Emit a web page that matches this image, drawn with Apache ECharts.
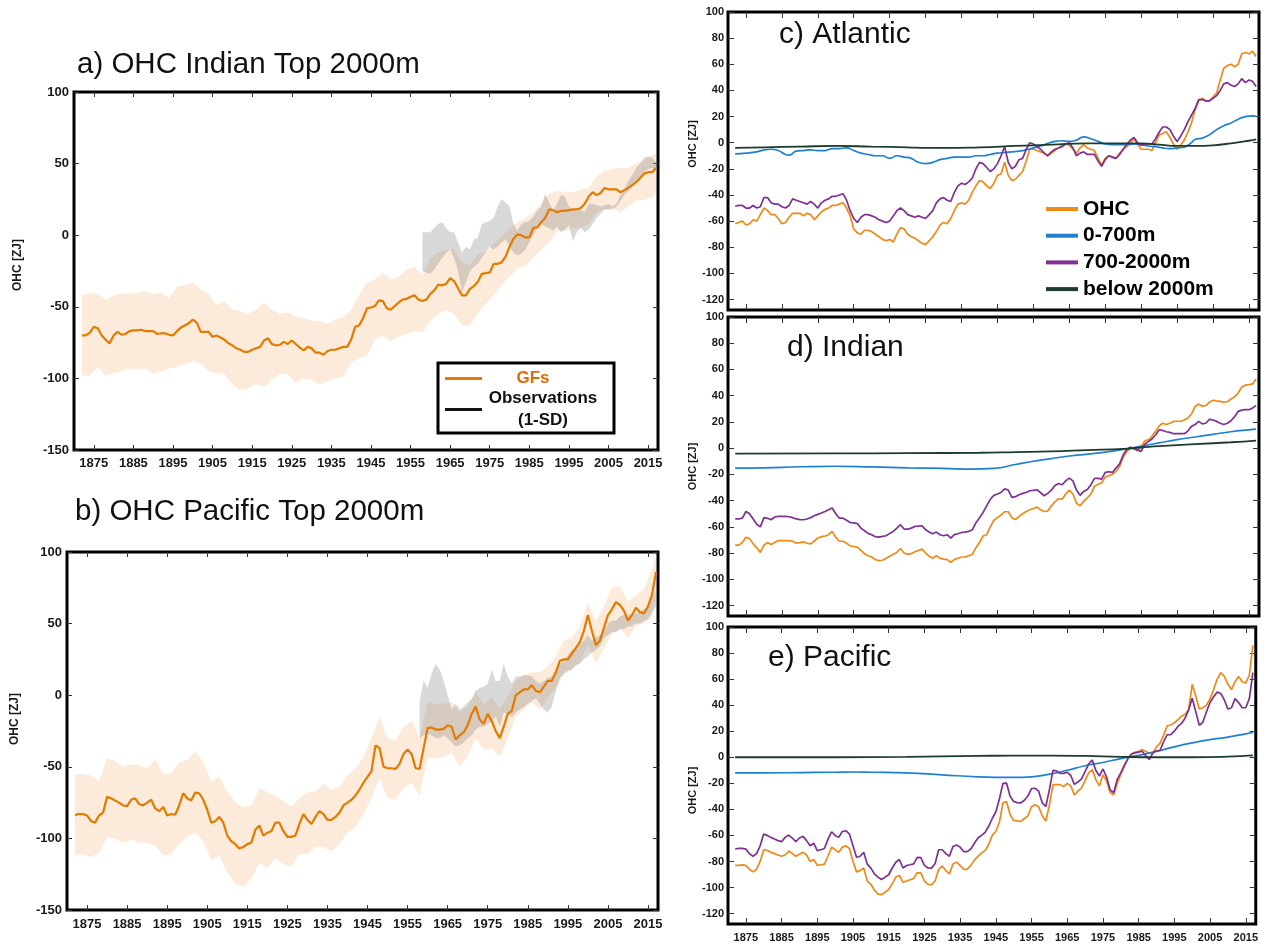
<!DOCTYPE html>
<html>
<head>
<meta charset="utf-8">
<script src="https://cdn.jsdelivr.net/npm/echarts@6/dist/echarts.min.js"></script>
<style>
html,body{margin:0;padding:0;background:#fff;}
#chart{width:1261px;height:943px;}
</style>
</head>
<body>
<div id="chart"></div>
<script>
// ---------------- DATA ----------------
const START_YEAR = 1872;           // first year of annual series (1872..2017)
const OBS_START = 1958;            // first year of observation bands (1958..2017)
const X_TICKS = [1875,1885,1895,1905,1915,1925,1935,1945,1955,1965,1975,1985,1995,2005,2015];
const Y_TICKS_LEFT = [-150,-100,-50,0,50,100];
const Y_TICKS_RIGHT = [-120,-100,-80,-60,-40,-20,0,20,40,60,80,100];
const BAND_YEARS = [1872,1874,1876,1878,1880,1882,1884,1886,1888,1890,
  1892,1894,1896,1898,1900,1902,1904,1906,1908,1910,
  1912,1914,1916,1918,1920,1922,1924,1926,1928,1930,
  1932,1934,1936,1938,1940,1942,1944,1946,1948,1950,
  1952,1954,1956,1958,1960,1962,1964,1966,1968,1970,
  1972,1974,1976,1978,1980,1982,1984,1986,1988,1990,
  1992,1994,1996,1998,2000,2002,2004,2006,2008,2010,
  2012,2014,2016,2017];

// a) Indian top 2000m : GFs mean (annual)
const A_MEAN = [
 -70,-70,-68,-64,-65,-70,-73,-75.5,-70,-67.5,
 -69.5,-69,-67,-66.5,-66.5,-66,-67,-67,-67,-69,
 -68.5,-68.5,-69.5,-70,-67,-64.5,-63,-61.5,-59,-61,
 -67.5,-67.5,-67.5,-71,-70,-71.5,-73,-75.5,-77,-79,
 -80,-81.5,-81.5,-80,-79,-78,-73.5,-72,-76,-77,
 -76.5,-74.5,-76,-73.5,-76,-78.5,-80.5,-78,-79,-82,
 -82,-83.5,-81,-80,-80,-79,-78,-78,-73,-64,
 -63,-58,-51,-50.5,-49.5,-45.5,-46,-51,-52,-49.5,
 -47,-45,-44.5,-43,-42,-45,-46,-45,-41,-38.5,
 -34.5,-35,-34,-30,-32,-37,-42,-42,-37.5,-35.5,
 -32.5,-27,-26.5,-26,-20,-20,-19,-15,-8,-2.5,
 0.5,0,-1.5,-1.5,5,5.5,9,12,18,17.5,
 16,17,17,17.5,18,18,19,22,27,30,
 28,29.5,33,32,32,32,30,31.5,33,35,
 37,40,43,44,44,47];
// a) GFs spread (on BAND_YEARS)
const A_BAND_HI = [
 -42,-40,-41,-45,-42,-40.5,-41,-40,-39,-41,
 -40,-44,-36,-35,-33,-38,-41,-49,-46,-52,
 -53,-55,-52,-47,-52,-55,-54,-57,-58,-60,
 -60,-62,-59,-57,-52,-42,-33,-31,-26,-31,
 -29,-24,-22,-28,-16,-12,-10,-10,-19,-21,
 -13,-12,-6,-1,5,9,12,16,22,29,
 31,30,30,32,33,41,45,46,47,47,
 50,52,56,57];
const A_BAND_LO = [
 -98,-98,-92,-98,-96,-95,-93,-94,-93,-97,
 -95,-93,-92,-90,-88,-90,-95,-96,-97,-104,
 -108,-107,-104,-106,-101,-97,-97,-103,-100,-101,
 -104,-102,-100,-99,-89,-86,-84,-73,-70,-74,
 -71,-69,-67,-68,-60,-55,-52,-55,-63,-63,
 -54,-48,-42,-35,-29,-23,-22,-15,-10,-5,
 3,3,5,5,8,16,18,19,16,20,
 24,25,26,30];
// a) Observations 1-SD (annual from 1958)
const A_OBS_HI = [
 2,2,2,5,8,9,5,2,2,-5,
 -12,-8,-10,-3,-2,8,9,10,12,20,
 25,23,20,8,3,8,9,10,13,17,
 20,29,23,17,22,28,27,20,18,17,
 18,16,22,22,21,20,21,22,20,22,
 28,32,38,42,47,50,54,55,54,51];
const A_OBS_LO = [
 -25,-26,-27,-24,-20,-16,-12,-10,-16,-25,
 -40,-33,-25,-22,-20,-16,-12,-8,-10,-8,
 -5,-3,-8,-12,-14,-13,-10,-5,0,5,
 8,6,5,3,6,2,4,7,-4,2,
 5,2,4,8,12,15,18,18,18,20,
 24,28,31,34,38,41,44,46,47,46];

// b) Pacific top 2000m : GFs mean (annual)
const B_MEAN = [
 -83.7,-83,-83,-84,-88,-89,-84,-82,-71,-72,
 -73.5,-75,-77,-77.5,-73,-72,-76,-77,-75,-73,
 -79,-81,-78,-84,-83,-83.5,-77,-68.5,-72,-73.5,
 -68,-68.5,-73,-80,-89,-88,-85,-89,-98,-102,
 -104,-107,-106,-104,-103,-94,-91,-98,-96,-95,
 -89,-89,-95,-99,-99,-98,-90,-83,-87,-90,
 -85,-81,-83,-87,-87,-85,-82,-77,-75,-73,
 -70,-66,-61,-57,-53,-35,-37,-50,-51,-51,
 -51.5,-48,-41,-38,-41,-51,-51.5,-37,-23,-22.5,
 -24,-24,-23.5,-21,-22,-31,-28,-26,-21,-13,
 -8,-17,-20,-13,-18,-25,-30,-22,-13,-11,
 0,2,4,4,7,3,2,6,10,10,
 16,24,25,25,29,33,37,45,56,45,
 35,38,47,56,60,65,63,59,52,56,
 61,58,57,62,70,86];
const B_BAND_HI = [
 -55,-55,-56,-60,-44,-46,-50,-48,-49,-51,
 -45,-55,-55,-47,-45,-39,-47,-60,-57,-67,
 -75,-78,-77,-65,-68,-70,-74,-78,-72,-68,
 -67,-62,-66,-64,-56,-51,-43,-30,-15,-30,
 -32,-22,-18,-30,-5,-6,-6,-5,-12,-8,
 3,-7,-1,-10,0,10,14,16,16,20,
 27,38,40,48,65,52,62,75,76,65,
 70,74,88,98];
const B_BAND_LO = [
 -112,-111,-113,-110,-99,-100,-103,-101,-103,-103,
 -105,-112,-111,-104,-99,-96,-102,-115,-112,-124,
 -131,-134,-128,-117,-121,-114,-118,-120,-111,-111,
 -106,-106,-109,-104,-96,-92,-83,-72,-58,-72,
 -73,-65,-61,-70,-44,-44,-43,-40,-50,-43,
 -30,-38,-37,-43,-30,-15,-10,-5,-10,-2,
 5,15,18,23,35,22,33,43,47,40,
 48,50,55,72];
const B_OBS_HI = [
 -5,10,5,15,22,18,10,0,-10,-6,
 -10,-8,-5,-3,3,5,6,8,18,10,
 10,22,13,8,13,13,14,14,13,10,
 8,10,12,13,18,22,24,28,32,33,
 35,38,42,38,40,42,45,50,52,52,
 55,56,56,57,57,59,60,63,68,72];
const B_OBS_LO = [
 -30,-28,-27,-28,-30,-30,-28,-30,-33,-36,
 -35,-33,-30,-28,-24,-22,-22,-20,-18,-15,
 -22,-12,-13,-15,-12,-10,-8,-6,-4,-2,
 -6,-10,-12,-8,3,12,15,17,18,21,
 22,25,27,30,32,34,40,42,44,44,
 46,46,48,48,50,50,52,53,58,62];

// c) Atlantic (annual OHC and 700-2000m; sparse smooth layers)
const C_OHC = [
 -62,-61,-60,-63,-62,-59,-60,-55,-50,-52,
 -55,-55,-58,-62,-61,-57,-54,-54,-54,-56,
 -54,-55,-59,-56,-53,-51,-50,-48,-48,-47,
 -46,-50,-56,-66,-69,-70,-67,-67,-68,-70,
 -72,-74,-75,-74,-76,-70,-65,-66,-70,-72,
 -73,-75,-77,-78,-75,-72,-68,-63,-61,-62,
 -58,-52,-47,-46,-47,-44,-38,-33,-29,-30,
 -33,-35,-31,-25,-24,-15,-25,-29,-28,-25,
 -22,-14,-5,-5,-6,-7,-8,-10,-8,-6,
 -4,-2,-1,-2,-5,-8,-4,-1.5,-4,-5,
 -6,-12,-17,-12,-10,-11,-12,-8,-5,-3,
 0,3,-1,-5,-5,-5,-6,0,6,7,
 8.5,4,-1,-5,-2,2,8,15,25,32,
 34,32,32,35,38,48,57,59,60,58,
 60,68,69,68,70,66];
const C_MID = [
 -48.6,-48,-48,-50,-50,-48,-50,-49,-42,-42,
 -46,-47,-47,-49,-50,-48,-43,-44,-45,-46,
 -47,-45,-47,-50,-46,-44,-43,-41,-41,-40,
 -39,-44,-52,-58,-61,-57,-55,-55,-56,-57,
 -59,-60,-61,-60,-56,-52,-50,-52,-55,-56,
 -57,-56,-57,-58,-55,-52,-46,-43,-42,-44,
 -45,-38,-33,-31,-32,-30,-27,-20,-15,-16,
 -19,-22,-20,-16,-10,-3,-15,-20,-18,-13,
 -12,-5,0,-1,-3,-5,-8,-10,-7,-5,
 -4,-3,-1,0,-4,-10,-8,-7,-9,-9,
 -9,-14,-18,-13,-10,-11,-12,-9,-5,-1,
 2,4,0,-2,-1,-1,-1,3,8,12,
 12,10,5,1,5,10,16,21,26,33,
 33,32,32,34,36,40,45,46,44,43,
 45,49,46,48,47,43];
const C_UP_YEARS = [1872,1875,1878,1880,1882,1884,1886,1887,1889,1891,1893,1895,1897,1899,1901,1903,1905,1907,1909,1911,1913,1915,1917,1919,1921,1923,1925,1927,1929,1931,1933,1935,1937,1939,1941,1943,1945,1947,1949,1951,1953,1955,1957,1959,1961,1963,1965,1967,1969,1971,1973,1975,1977,1979,1981,1983,1985,1987,1989,1991,1993,1995,1997,1998,1999,2000,2002,2004,2006,2008,2010,2012,2014,2016,2017];
const C_UP = [-8.6,-8,-7,-5.5,-5,-6,-9,-9.5,-6.5,-6,-5.5,-6,-6,-4.5,-4.5,-4,-6,-8,-9,-10,-10,-12,-10,-11,-12,-15,-16,-15,-13,-12,-11,-11,-11,-10,-10,-9,-8,-7.5,-7,-6.5,-5.5,-4,-2.5,-0.5,1,1.5,1,2,4.5,3,1,-1,-1.5,-1.5,-1.5,-1,-1.5,-2.5,-3,-4,-4.5,-4,-3.5,-2,0,2.5,3.5,6,10,13,15,18,20,20.5,20];
const C_DEEP_YEARS = [1872,1880,1890,1900,1910,1920,1925,1930,1940,1950,1960,1970,1980,1985,1990,1995,2000,2005,2010,2015,2017];
const C_DEEP = [-4,-3.5,-3,-2.5,-3,-3.5,-4,-4,-3.5,-2.5,-1.5,-0.5,-0.5,-0.5,-1.5,-2.5,-2.5,-2,-0.5,1.5,2.5];

// d) Indian
const D_OHC = [
 -74,-74,-72,-68,-69,-73,-76,-79.5,-74,-72,
 -73.5,-72,-70.5,-70.5,-70.5,-70.5,-71,-72.5,-72,-71.5,
 -72.5,-73,-71,-68.5,-67.5,-67,-66,-63.5,-68,-71,
 -71,-72.5,-74.5,-75,-75.5,-78,-80.5,-82,-83,-85,
 -85.7,-85.5,-84,-82.5,-81,-79.5,-76.5,-80,-81,-80.5,
 -79,-78,-77,-80,-82.5,-84,-82,-84,-84.6,-85,
 -87,-85,-84,-83,-83,-82,-81,-76,-72,-67,
 -66,-60,-55,-53,-51,-48.5,-48.5,-53,-54.5,-52,
 -50,-48.3,-47,-46,-45,-47,-48.3,-48,-44,-41,
 -38.5,-39,-35,-32,-35,-42,-44,-40.5,-38,-35,
 -29,-27.5,-26.5,-22,-21,-20,-17.5,-14,-7,-2.5,
 0,-0.3,-2,1,5.5,6.4,9,12.8,17,19,
 18,19,20.4,20.5,20.5,21.5,23,26,31.8,33.6,
 32,32.5,35,36.5,36,35.7,35,35.5,37.5,39,
 42,46.6,48,48.4,49,52.7];
const D_MID = [
 -54,-54,-53.4,-48.3,-50,-54,-58,-60,-53,-53.5,
 -54.6,-52.5,-52,-52,-52,-52.3,-53,-54,-54.5,-54.6,
 -54,-53,-51.6,-50.5,-49.5,-48.3,-47,-45.7,-50,-53.4,
 -53.4,-55,-56.7,-57,-57.5,-61,-63,-65,-66,-67.5,
 -67.9,-67.3,-66.8,-65,-63.5,-61,-58.4,-61.7,-61.7,-61,
 -59.7,-59.5,-59.2,-62.3,-64,-65.3,-64,-66,-66.8,-66,
 -68.6,-66,-65.3,-64.3,-64,-63.5,-62.3,-57,-53,-49,
 -44,-39,-36,-35,-33.8,-31,-32,-37.5,-37,-35.5,
 -34.5,-33.8,-32.5,-32.2,-31.7,-34,-36.3,-34.5,-32,-28.5,
 -27,-27.9,-25,-22.8,-25,-32,-36,-33,-31.5,-28,
 -23,-23,-23.6,-18.5,-18,-18.5,-15,-12,-5,-1,
 0.8,-0.5,-1.5,-2.5,3,5,7,10,14,13.5,
 12.5,12,11,11,11,11,13,16.6,18,20.4,
 18.5,19,22,21.5,20.4,19,18,19,20.9,24,
 28,29,29.3,29.3,30.5,32.6];
const D_UP_YEARS = [1872,1880,1890,1900,1910,1920,1930,1938,1944,1950,1955,1960,1965,1970,1975,1980,1985,1990,1995,2000,2005,2010,2015,2017];
const D_UP = [-15.2,-15,-14.2,-13.8,-14.3,-15,-15.5,-16,-15.5,-12.5,-10,-8,-6,-4.5,-3,-1,1.5,4,6.5,8.5,10.5,12.5,14,14.5];
const D_DEEP_YEARS = [1872,1900,1920,1940,1950,1960,1970,1980,1985,1990,2000,2010,2017];
const D_DEEP = [-4.2,-4,-3.8,-3.5,-3,-2.5,-1.5,-0.5,0.5,1.5,3,4.5,5.8];

// e) Pacific
const E_OHC = [
 -83,-83,-82.6,-83,-86,-88,-86,-80,-71,-71.5,
 -73,-74,-75,-76,-75,-72,-74,-76,-74.5,-73,
 -75,-80,-78.5,-83,-82.5,-82,-76,-69,-71,-73,
 -69,-68,-70,-80,-88,-87,-85,-95,-97.5,-102,
 -105,-105.5,-103.5,-101.5,-97,-92,-90.7,-96,-95,-94,
 -93,-88.7,-88.7,-95,-97.5,-97.9,-95,-86,-83.5,-87,
 -89.5,-82,-80.5,-83,-86,-86,-83,-79,-76,-73.5,
 -71.7,-67,-60,-57,-50,-35,-34,-44,-48.5,-48.8,
 -49.3,-47,-45,-38,-36.5,-38,-45,-49,-37,-21,
 -21,-21,-22.6,-20,-22,-29,-26,-23.5,-18,-12,
 -9.5,-17,-22,-13.5,-18,-27,-29,-20,-13,-7,
 -1,2.5,3.9,4.5,6,4.5,3,3.4,8,10.8,
 17,24.2,24.8,26.5,28.8,31.5,33,36.4,56,47,
 37,38,40,45,52,60,65,62,56,52,
 58,62,58,57,63,86];
const E_MID = [
 -70.4,-70,-70,-70.5,-74,-76,-74,-68,-59,-60,
 -61.5,-62.8,-64,-64.8,-61.5,-59.7,-62,-64.8,-62,-60.7,
 -64,-68,-66,-71.7,-71,-70,-63,-57.2,-60,-61.5,
 -57,-56.4,-59,-68,-76.8,-76,-73,-82,-85.1,-89.5,
 -92,-93.8,-92,-90.2,-85,-80.6,-78.5,-85,-83.1,-82.5,
 -81.8,-76.8,-77,-83,-85,-85.1,-81.5,-71,-71,-74,
 -76,-68.5,-67.3,-69,-72.4,-72.4,-70.4,-66,-62,-60,
 -57.7,-53,-47,-42,-32,-20,-19.8,-30,-34,-34.8,
 -35,-33,-29.7,-24,-23.8,-26,-35,-37.8,-25,-10,
 -10.5,-12.4,-12.4,-11.5,-14,-20.8,-19,-16.5,-11,-5,
 -2.2,-10,-14.4,-9,-15,-25,-27.2,-17,-12,-6,
 -1,2.5,3.4,3.9,4.6,1,-1.7,3.4,5,5.4,
 12,17.3,17.3,20,23.7,26,30,36.4,45.3,35,
 24.5,27,35,42,46.5,50,49,44,37,38,
 45,42,38,38,45,65];
const E_UP_YEARS = [1872,1880,1890,1900,1905,1910,1920,1930,1940,1950,1955,1960,1965,1970,1975,1980,1985,1990,1995,2000,2005,2010,2015,2017];
const E_UP = [-12,-12,-11.8,-11.5,-11.3,-11.5,-12,-13.5,-15,-15.5,-15,-13,-10,-6.5,-4,-1,1.5,4.5,8,11,13.5,15.5,18,19];
const E_DEEP_YEARS = [1872,1900,1920,1940,1950,1960,1970,1980,1990,2000,2010,2017];
const E_DEEP = [0,0,0.3,1,1.3,1.3,1,0.3,0,0,0.5,1.5];

// ---------------- HELPERS ----------------
const FONT = "'Liberation Sans', Arial, Helvetica, sans-serif";
const COL = { gf:'#e27b00', ohc:'#ee8a18', up:'#1f80d0', mid:'#7e3192', deep:'#1d3c2b',
              band:'rgba(244,176,106,0.25)', obs:'rgba(125,125,125,0.30)' };

function annual(vals, start){ return vals.map((v,i)=>[start+i, v]); }
function pairs(years, vals){ return years.map((y,i)=>[y, vals[i]]); }

const grids = [
  {left:74,  top:92,  width:584, height:358},   // a
  {left:67,  top:552, width:591, height:358},   // b
  {left:728, top:12,  width:531, height:298},   // c
  {left:728, top:317, width:531, height:299},   // d
  {left:728, top:627, width:531, height:299}    // e
].map(g => Object.assign(g, {show:true, borderColor:'#000', borderWidth:3, backgroundColor:'rgba(0,0,0,0)'}));

const xAxes = [], yAxes = [];
function addAxes(gi, o){
  const tick = {show:true, inside:true, length:o.tickLen, lineStyle:{color:'#333', width:1}};
  xAxes.push({type:'value', gridIndex:gi, min:1870, max:o.xmax, position:'bottom',
    splitLine:{show:false}, axisLine:{show:false, onZero:false},
    axisTick:Object.assign({customValues:X_TICKS}, tick),
    axisLabel:{show:o.xLabels, customValues:X_TICKS, formatter:v => String(v),
      fontFamily:FONT, fontWeight:'bold', fontSize:o.fs, color:'#1a1a1a', margin:o.xMargin}});
  xAxes.push({type:'value', gridIndex:gi, min:1870, max:o.xmax, position:'top',
    splitLine:{show:false}, axisLine:{show:false, onZero:false},
    axisTick:Object.assign({customValues:X_TICKS}, tick), axisLabel:{show:false}});
  const yBase = {type:'value', gridIndex:gi, min:o.ymin, max:100,
    splitLine:{show:false}, axisLine:{show:false, onZero:false}};
  const yt = o.left ? Y_TICKS_LEFT : Y_TICKS_RIGHT;
  yAxes.push(Object.assign({}, yBase, {position:'left',
    axisTick:Object.assign({customValues:yt}, tick),
    axisLabel:{customValues:yt, formatter:v => String(v), fontFamily:FONT, fontWeight:'bold', fontSize:o.fs, color:'#1a1a1a', margin:o.yMargin},
    name:'OHC [ZJ]', nameLocation:'middle', nameGap:o.nameGap,
    nameTextStyle:{fontFamily:FONT, fontWeight:'bold', fontSize:o.nameFs, color:'#1a1a1a', padding:o.namePad}}));
  yAxes.push(Object.assign({}, yBase, {position:'right',
    axisTick:Object.assign({customValues:yt}, tick), axisLabel:{show:false}}));
}
addAxes(0, {xmax:2017.5, ymin:-150, left:true, xLabels:true, fs:13, xMargin:7, yMargin:5, tickLen:5, nameGap:50, nameFs:12, namePad:[0,0,0,12]});
addAxes(1, {xmax:2017.5, ymin:-150, left:true, xLabels:true, fs:13, xMargin:8, yMargin:5, tickLen:5, nameGap:46, nameFs:12, namePad:[0,0,0,24]});
addAxes(2, {xmax:2017.8, ymin:-128, left:false, xLabels:false, fs:11, xMargin:8, yMargin:4, tickLen:6, nameGap:30, nameFs:11, namePad:[0,0,0,34]});
addAxes(3, {xmax:2017.8, ymin:-128, left:false, xLabels:false, fs:11, xMargin:8, yMargin:4, tickLen:6, nameGap:30, nameFs:11, namePad:[0,0,0,0]});
addAxes(4, {xmax:2017.8, ymin:-128, left:false, xLabels:true, fs:11, xMargin:8, yMargin:4, tickLen:6, nameGap:30, nameFs:11, namePad:[0,30,0,0]});

const series = [];
function idx(gi){ return {xAxisIndex:gi*2, yAxisIndex:gi*2}; }
// shaded band between lo and hi, drawn as one polygon through the axes' coordinate system
function band(gi, years, lo, hi, color, name){
  series.push(Object.assign({name:name, type:'custom', silent:true, color:color,
    itemStyle:{color:color},
    data:[[years[0], lo[0]]],
    renderItem:(params, api) => {
      const pts = [];
      for (let i = 0; i < years.length; i++) pts.push(api.coord([years[i], hi[i]]));
      for (let i = years.length - 1; i >= 0; i--) pts.push(api.coord([years[i], lo[i]]));
      const cs = params.coordSys;
      return {type:'polygon', shape:{points:pts}, style:{fill:color},
              clipPath:{type:'rect', shape:{x:cs.x, y:cs.y, width:cs.width, height:cs.height}}};
    }}, idx(gi)));
}
function line(gi, name, data, color, width, smooth){
  series.push(Object.assign({name:name, type:'line', data:data, symbol:'none', color:color,
    smooth:!!smooth, lineStyle:{color:color, width:width}}, idx(gi)));
}
const OBS_YEARS = A_OBS_HI.map((v,i)=>OBS_START+i);

// a)
band(0, BAND_YEARS, A_BAND_LO, A_BAND_HI, COL.band, 'a GFs spread');
band(0, OBS_YEARS, A_OBS_LO, A_OBS_HI, COL.obs, 'Observations (1-SD)');
line(0, 'GFs', annual(A_MEAN, START_YEAR), COL.gf, 2.2);
// b)
band(1, BAND_YEARS, B_BAND_LO, B_BAND_HI, COL.band, 'b GFs spread');
band(1, OBS_YEARS, B_OBS_LO, B_OBS_HI, COL.obs, 'b Observations');
line(1, 'GFs', annual(B_MEAN, START_YEAR), COL.gf, 2.2);
// c, d, e)
[[2, C_OHC, C_MID, C_UP_YEARS, C_UP, C_DEEP_YEARS, C_DEEP],
 [3, D_OHC, D_MID, D_UP_YEARS, D_UP, D_DEEP_YEARS, D_DEEP],
 [4, E_OHC, E_MID, E_UP_YEARS, E_UP, E_DEEP_YEARS, E_DEEP]].forEach(p => {
  line(p[0], 'OHC', annual(p[1], START_YEAR), COL.ohc, 1.7);
  line(p[0], '0-700m', pairs(p[3], p[4]), COL.up, 1.7, true);
  line(p[0], '700-2000m', annual(p[2], START_YEAR), COL.mid, 1.7);
  line(p[0], 'below 2000m', pairs(p[5], p[6]), COL.deep, 1.8, true);
});

const titleStyle = fs => ({fontFamily:FONT, fontWeight:'normal', fontSize:fs, color:'#111'});
const option = {
  animation:false,
  backgroundColor:'#fff',
  title:[
    {text:'a) OHC Indian Top 2000m', left:77, top:50, padding:0, textStyle:titleStyle(29.5)},
    {text:'b) OHC Pacific Top 2000m', left:75, top:497, padding:0, textStyle:titleStyle(29.5)},
    {text:'c) Atlantic', left:779, top:20, padding:0, textStyle:titleStyle(30)},
    {text:'d) Indian', left:787, top:333, padding:0, textStyle:titleStyle(30)},
    {text:'e) Pacific', left:768, top:643, padding:0, textStyle:titleStyle(30)}
  ],
  grid:grids, xAxis:xAxes, yAxis:yAxes, series:series,
  legend:[
    {left:438, top:363, orient:'vertical', icon:'rect', itemWidth:37, itemHeight:3, itemGap:3,
     padding:[7,15,4,7], borderColor:'#000', borderWidth:3, backgroundColor:'#fff',
     selectedMode:false,
     data:[{name:'GFs'}, {name:'Observations (1-SD)', itemStyle:{color:'#111'}}],
     formatter: n => n === 'GFs' ? '{g|GFs}' : '{o|Observations}\n{o|(1-SD)}',
     textStyle:{fontFamily:FONT, fontWeight:'bold', fontSize:17, color:'#111',
       rich:{g:{fontFamily:FONT, fontWeight:'bold', fontSize:17, color:'#df6a0a', width:92, align:'center', lineHeight:20},
             o:{fontFamily:FONT, fontWeight:'bold', fontSize:17, color:'#111', width:112, align:'center', lineHeight:22}}}},
    {left:1046, top:197, orient:'vertical', icon:'rect', itemWidth:32, itemHeight:4, itemGap:2.7,
     padding:0, selectedMode:false,
     data:['OHC','0-700m','700-2000m','below 2000m'],
     textStyle:{fontFamily:FONT, fontWeight:'bold', fontSize:21, color:'#000', lineHeight:24}}
  ]
};
const chart = echarts.init(document.getElementById('chart'), null, {renderer:'canvas'});
chart.setOption(option);

// sanity check of array lengths
const checks = {A_MEAN:146,B_MEAN:146,C_OHC:146,C_MID:146,D_OHC:146,D_MID:146,E_OHC:146,E_MID:146,
  A_BAND_HI:74,A_BAND_LO:74,B_BAND_HI:74,B_BAND_LO:74,A_OBS_HI:60,A_OBS_LO:60,B_OBS_HI:60,B_OBS_LO:60};
const bad = Object.keys(checks).filter(k => eval(k).length !== checks[k]).map(k => k+':'+eval(k).length);
if (bad.length) setTimeout(() => { throw new Error('Length mismatch ' + bad.join(', ')); }, 0);
</script>
</body>
</html>
